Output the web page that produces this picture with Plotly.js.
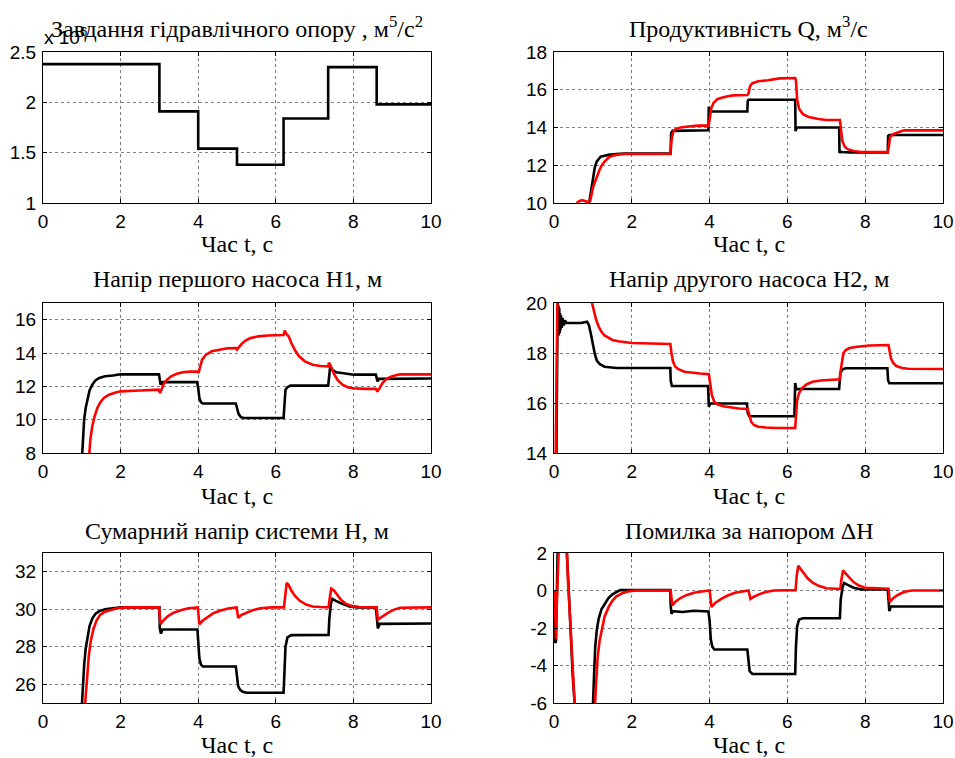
<!DOCTYPE html>
<html>
<head>
<meta charset="utf-8">
<script src="https://cdn.plot.ly/plotly-3.0.1.min.js"></script>
<style>html,body{margin:0;padding:0;background:#fff}#chart{width:955px;height:758px}</style>
</head>
<body>
<div id="chart"></div>
<script>
// ---- Data (time in s) ----
// 1) Hydraulic resistance setpoint (x 10^6), step changes
const resTime  = [0, 3, 4, 5, 6.2, 7.35, 8.6, 10];
const resValue = [2.38, 1.91, 1.54, 1.38, 1.84, 2.35, 1.98, 1.98];

// 2) Productivity Q  [t, value]
const qBlack = [[0.55,9.9],[0.9,9.95],[0.95,10.6],[1.0,11.4],[1.05,11.9],[1.1,12.2],[1.15,12.35],[1.2,12.45],[1.3,12.5],[1.4,12.55],
  [1.6,12.6],[1.8,12.62],[3.0,12.62],[3.01,13.7],[3.05,13.82],[3.97,13.85],[3.98,15.1],[4.0,14.9],[4.05,14.85],[4.97,14.85],
  [4.98,15.4],[5.0,15.47],[6.2,15.47],[6.21,13.8],[6.23,13.95],[6.27,14.0],[7.33,14.0],[7.34,12.65],[7.37,12.72],[7.4,12.7],
  [7.6,12.68],[8.58,12.68],[8.59,13.55],[8.62,13.6],[10,13.6]];
const qRed = [[0.58,10.0],[0.65,10.1],[0.72,10.15],[0.8,10.1],[0.88,10.05],[0.93,10.1],[1.0,10.8],[1.05,11.1],[1.1,11.4],[1.17,11.75],
  [1.23,12.0],[1.3,12.2],[1.4,12.4],[1.5,12.5],[1.6,12.55],[1.8,12.6],[2.0,12.6],[2.99,12.6],[3.02,13.3],[3.06,13.75],
  [3.12,13.9],[3.25,14.0],[3.45,14.05],[3.7,14.1],[3.97,14.1],[4.0,14.4],[4.04,15.0],[4.1,15.3],[4.2,15.5],[4.35,15.6],
  [4.6,15.7],[4.97,15.72],[5.0,15.8],[5.04,16.2],[5.1,16.35],[5.25,16.45],[5.5,16.5],[5.8,16.6],[6.2,16.62],[6.22,16.5],
  [6.25,15.5],[6.3,15.0],[6.4,14.7],[6.55,14.55],[6.8,14.45],[7.0,14.4],[7.35,14.4],[7.37,14.0],[7.41,13.3],[7.47,13.0],
  [7.55,12.85],[7.7,12.75],[7.9,12.7],[8.58,12.7],[8.6,12.9],[8.64,13.5],[8.72,13.65],[8.85,13.75],[9.0,13.85],[10,13.85]];

// 3) Head of first pump H1
const h1Black = [[1.0,7.5],[1.03,9.0],[1.06,10.0],[1.1,10.7],[1.15,11.3],[1.2,11.75],[1.27,12.1],[1.35,12.35],[1.45,12.5],[1.6,12.6],
  [1.8,12.65],[2.0,12.72],[2.99,12.72],[3.0,12.5],[3.03,12.1],[3.08,12.25],[3.97,12.25],[4.0,11.9],[4.03,11.3],[4.07,11.05],
  [4.12,10.97],[4.97,10.97],[5.0,10.7],[5.04,10.35],[5.1,10.15],[5.18,10.1],[6.2,10.1],[6.22,11.0],[6.25,11.8],[6.3,11.95],
  [6.38,12.04],[7.35,12.04],[7.37,12.7],[7.4,13.15],[7.45,13.0],[7.55,12.85],[7.75,12.78],[8.0,12.7],[8.58,12.7],[8.6,12.5],
  [8.62,12.3],[8.66,12.45],[10,12.47]];
const h1Red = [[1.18,7.5],[1.22,8.8],[1.27,9.6],[1.33,10.2],[1.4,10.7],[1.48,11.05],[1.57,11.3],[1.7,11.5],[1.85,11.62],[2.0,11.7],
  [2.5,11.75],[2.98,11.8],[3.02,11.6],[3.06,11.9],[3.12,12.2],[3.2,12.4],[3.3,12.6],[3.45,12.75],[3.6,12.85],[3.8,12.88],
  [3.98,12.88],[4.01,12.8],[4.05,13.2],[4.1,13.6],[4.2,13.9],[4.35,14.1],[4.55,14.2],[4.75,14.28],[4.97,14.3],[5.0,14.2],
  [5.05,14.35],[5.12,14.55],[5.22,14.75],[5.35,14.9],[5.55,15.0],[5.8,15.05],[6.2,15.08],[6.23,15.35],[6.27,15.15],[6.33,15.0],
  [6.4,14.6],[6.5,14.15],[6.6,13.8],[6.75,13.5],[6.95,13.3],[7.15,13.22],[7.35,13.2],[7.37,13.42],[7.42,13.2],[7.5,12.75],
  [7.6,12.35],[7.72,12.1],[7.85,11.95],[8.0,11.88],[8.3,11.85],[8.58,11.85],[8.62,11.68],[8.67,11.9],[8.75,12.2],[8.85,12.45],
  [9.0,12.6],[9.2,12.72],[10,12.72]];

// 4) Head of second pump H2
const h2Black = [[0.06,13.5],[0.08,17.5],[0.095,20.3],[0.105,19.0],[0.115,19.9],[0.125,18.7],[0.135,19.8],[0.145,18.8],[0.155,19.6],[0.165,18.9],
  [0.18,19.5],[0.2,19.0],[0.22,19.4],[0.25,19.1],[0.28,19.3],[0.32,19.2],[0.5,19.2],[0.7,19.2],[0.85,19.25],[0.9,19.1],
  [0.95,18.75],[1.0,18.3],[1.05,17.95],[1.1,17.7],[1.18,17.55],[1.3,17.45],[1.45,17.42],[1.6,17.4],[2.99,17.4],[3.0,16.9],
  [3.03,16.68],[3.96,16.68],[3.98,15.85],[4.02,15.98],[4.96,15.98],[4.98,15.6],[5.02,15.47],[6.18,15.47],[6.2,16.8],[6.23,16.55],
  [6.3,16.56],[7.33,16.56],[7.36,17.2],[7.42,17.35],[7.5,17.39],[8.57,17.39],[8.59,16.9],[8.62,16.79],[10,16.79]];
const h2Red = [[0.04,13.5],[0.08,20.5],[0.11,23],[0.5,23],[0.9,21],[0.97,20.05],[1.02,19.7],[1.08,19.35],[1.15,19.05],[1.22,18.85],
  [1.3,18.7],[1.4,18.6],[1.5,18.52],[1.65,18.47],[1.8,18.43],[2.0,18.4],[2.5,18.38],[2.99,18.36],[3.02,18.0],[3.06,17.65],
  [3.12,17.45],[3.2,17.35],[3.35,17.25],[3.55,17.2],[3.75,17.18],[3.98,17.15],[4.02,16.7],[4.06,16.3],[4.12,16.05],[4.2,15.95],
  [4.35,15.87],[4.55,15.82],[4.75,15.78],[4.98,15.76],[5.02,15.5],[5.07,15.25],[5.14,15.12],[5.25,15.05],[5.45,15.02],[5.7,15.0],
  [6.2,15.0],[6.22,15.5],[6.25,16.1],[6.3,16.4],[6.38,16.6],[6.5,16.75],[6.65,16.85],[6.85,16.9],[7.1,16.92],[7.35,16.95],
  [7.37,17.3],[7.4,17.7],[7.44,18.0],[7.5,18.12],[7.6,18.2],[7.8,18.25],[8.1,18.3],[8.6,18.32],[8.62,18.1],[8.66,17.8],
  [8.72,17.6],[8.8,17.48],[8.95,17.4],[9.1,17.37],[10,17.36]];

// 5) Total head of the system H
const hBlack = [[1.0,24.8],[1.03,26.0],[1.06,27.0],[1.1,27.9],[1.15,28.6],[1.2,29.1],[1.27,29.5],[1.35,29.75],[1.45,29.9],[1.6,30.0],
  [1.8,30.05],[2.0,30.1],[3.0,30.1],[3.01,29.0],[3.04,28.7],[3.08,28.92],[3.98,28.92],[4.0,28.3],[4.03,27.4],[4.07,27.05],
  [4.12,26.95],[4.97,26.95],[5.0,26.5],[5.03,25.9],[5.08,25.7],[5.15,25.6],[5.25,25.55],[6.2,25.55],[6.22,26.5],[6.25,28.0],
  [6.3,28.5],[6.4,28.62],[7.36,28.63],[7.38,29.5],[7.42,30.3],[7.46,30.55],[7.55,30.45],[7.7,30.3],[7.9,30.15],[8.1,30.1],
  [8.58,30.1],[8.6,29.5],[8.63,28.98],[8.68,29.22],[10,29.24]];
const hRed = [[1.08,24.8],[1.11,25.8],[1.14,26.7],[1.18,27.5],[1.23,28.3],[1.3,28.95],[1.38,29.4],[1.47,29.7],[1.58,29.85],[1.72,29.95],
  [1.9,30.05],[2.1,30.1],[2.99,30.1],[3.03,29.2],[3.1,29.4],[3.2,29.6],[3.35,29.8],[3.55,29.95],[3.75,30.05],[3.99,30.1],
  [4.03,29.2],[4.12,29.4],[4.25,29.6],[4.4,29.8],[4.6,29.95],[4.8,30.05],[4.99,30.1],[5.03,29.55],[5.12,29.7],[5.25,29.8],
  [5.4,29.95],[5.6,30.05],[5.9,30.1],[6.21,30.1],[6.24,30.8],[6.28,31.4],[6.33,31.3],[6.4,31.0],[6.5,30.7],[6.62,30.45],
  [6.78,30.25],[6.95,30.15],[7.15,30.12],[7.36,30.1],[7.39,30.6],[7.43,31.1],[7.5,31.0],[7.58,30.75],[7.68,30.5],[7.8,30.3],
  [7.95,30.18],[8.15,30.12],[8.6,30.1],[8.63,29.45],[8.7,29.55],[8.8,29.7],[8.92,29.85],[9.05,29.98],[9.2,30.08],[10,30.1]];

// 6) Head error ΔH
const dBlack = [[0,0],[0.01,-1.5],[0.03,-2.8],[0.05,-2.7],[0.07,0],[0.09,3],[0.12,5],[0.2,6],[0.3,3],[0.33,2],
  [0.38,0],[0.43,-2.5],[0.48,-4.5],[0.53,-6],[0.6,-8],[0.9,-8],[1.0,-6.2],[1.03,-4.5],[1.06,-3.0],[1.1,-2.1],
  [1.15,-1.5],[1.22,-1.0],[1.3,-0.7],[1.4,-0.4],[1.5,-0.2],[1.6,-0.08],[1.7,0.02],[2.0,0.02],[2.99,0.02],[3.0,-0.8],
  [3.02,-1.25],[3.05,-1.1],[3.3,-1.15],[3.6,-1.08],[3.97,-1.12],[4.0,-1.6],[4.03,-2.6],[4.07,-3.0],[4.12,-3.15],[4.97,-3.15],
  [5.0,-3.8],[5.03,-4.3],[5.1,-4.45],[6.2,-4.45],[6.22,-3.0],[6.25,-1.9],[6.3,-1.55],[6.4,-1.48],[7.35,-1.48],[7.37,-0.5],
  [7.42,0.2],[7.46,0.4],[7.55,0.3],[7.7,0.15],[7.9,0.05],[8.58,0.05],[8.6,-0.5],[8.62,-1.1],[8.66,-0.85],[10,-0.85]];
const dRed = [[0,0],[0.01,-1],[0.02,0],[0.03,-2],[0.04,-0.5],[0.05,-2.6],[0.06,-1.5],[0.075,3],[0.1,6],[0.2,7],
  [0.3,4],[0.33,2],[0.36,0.5],[0.4,-1.0],[0.44,-2.8],[0.48,-4.3],[0.52,-5.6],[0.55,-6.5],[0.7,-9],[1.0,-8],
  [1.05,-6.0],[1.08,-4.8],[1.12,-3.6],[1.17,-2.7],[1.23,-2.0],[1.3,-1.4],[1.4,-0.9],[1.5,-0.55],[1.6,-0.32],[1.75,-0.15],
  [1.9,-0.05],[2.1,0],[3.0,0],[3.04,-0.8],[3.12,-0.6],[3.25,-0.4],[3.4,-0.25],[3.6,-0.12],[3.8,-0.05],[4.0,0],
  [4.05,-0.88],[4.15,-0.65],[4.3,-0.45],[4.45,-0.28],[4.65,-0.12],[4.85,-0.04],[5.0,0],[5.05,-0.45],[5.15,-0.32],[5.3,-0.18],
  [5.45,-0.08],[5.65,0],[6.21,0.02],[6.24,0.8],[6.28,1.32],[6.34,1.15],[6.42,0.9],[6.52,0.65],[6.65,0.42],[6.8,0.25],
  [7.0,0.12],[7.36,0.08],[7.39,0.6],[7.43,1.07],[7.5,0.9],[7.58,0.7],[7.7,0.45],[7.85,0.25],[8.0,0.15],[8.6,0.1],
  [8.63,-0.62],[8.7,-0.45],[8.8,-0.28],[8.92,-0.15],[9.05,-0.05],[9.2,0],[10,0]];

// Titles and labels
const titles = ['Завдання гідравлічного опору , м<sup>5</sup>/с<sup>2</sup>', 'Продуктивність Q, м<sup>3</sup>/с',
  'Напір першого насоса H1, м', 'Напір другого насоса H2, м', 'Сумарний напір системи H, м', 'Помилка за напором ΔH'];
const xLabel = 'Час t, с';
const xTicks = [0, 2, 4, 6, 8, 10];
const yRanges = [[1, 2.5], [10, 18], [8, 17], [14, 20], [25, 33], [-6, 2]];
const yTickVals = [[1, 1.5, 2, 2.5], [10, 12, 14, 16, 18], [8, 10, 12, 14, 16], [14, 16, 18, 20], [26, 28, 30, 32], [-6, -4, -2, 0, 2]];
const yTickText = [['1', '1.5', '2', '2.5'], ['10', '12', '14', '16', '18'], ['8', '10', '12', '14', '16'], ['14', '16', '18', '20'], ['26', '28', '30', '32'], ['-6', '-4', '-2', '0', '2']];

// ---- Build ----
const W = 955, H = 758;
const colX = [[43, 431], [554, 943]];
const rowY = [[52, 203], [303, 453], [553, 703]];
const titleY = [27, 279, 531];
const xTitleY = [244, 496, 745];

const BLACK = '#000000', RED = '#ff0000';
const ax = (i) => (i === 0 ? '' : String(i + 1));
const traces = [];
function line(pairs, color, i) {
  traces.push({x: pairs.map(p => p[0]), y: pairs.map(p => p[1]), type: 'scatter', mode: 'lines',
    line: {color: color, width: 2.6}, xaxis: 'x' + ax(i), yaxis: 'y' + ax(i), hoverinfo: 'skip', showlegend: false});
}
traces.push({x: resTime, y: resValue, type: 'scatter', mode: 'lines', line: {color: BLACK, width: 2.6, shape: 'hv'},
  xaxis: 'x', yaxis: 'y', showlegend: false});
line(qBlack, BLACK, 1); line(qRed, RED, 1);
line(h1Black, BLACK, 2); line(h1Red, RED, 2);
line(h2Black, BLACK, 3); line(h2Red, RED, 3);
line(hBlack, BLACK, 4); line(hRed, RED, 4);
line(dBlack, BLACK, 5); line(dRed, RED, 5);

const layout = {width: W, height: H, margin: {l: 0, r: 0, t: 0, b: 0}, paper_bgcolor: '#fff', plot_bgcolor: '#fff',
  showlegend: false, annotations: []};
const tickFont = {family: 'Liberation Sans, Arial, sans-serif', size: 19, color: '#000'};
const serif = {family: 'Liberation Serif, Times New Roman, serif', size: 24, color: '#000'};
for (let i = 0; i < 6; i++) {
  const r = Math.floor(i / 2), c = i % 2;
  const common = {showline: true, mirror: 'ticks', linecolor: '#000', linewidth: 1, ticks: 'inside', ticklen: 4,
    tickcolor: '#000', tickwidth: 1, showgrid: true, gridcolor: '#7f7f7f', griddash: 'dot', gridwidth: 1,
    zeroline: false, tickfont: tickFont, fixedrange: true, automargin: false};
  layout['xaxis' + ax(i)] = Object.assign({}, common, {domain: [colX[c][0] / W, colX[c][1] / W], range: [0, 10],
    tickvals: xTicks, anchor: 'y' + ax(i), ticklabelstandoff: 1});
  layout['yaxis' + ax(i)] = Object.assign({}, common, {domain: [1 - rowY[r][1] / H, 1 - rowY[r][0] / H], range: yRanges[i],
    tickvals: yTickVals[i], ticktext: yTickText[i], anchor: 'x' + ax(i), ticklabelstandoff: 2});
  const cx = (colX[c][0] + colX[c][1]) / 2 / W;
  layout.annotations.push({text: titles[i], x: cx, y: 1 - titleY[r] / H, xref: 'paper', yref: 'paper',
    xanchor: 'center', yanchor: 'middle', showarrow: false, font: serif});
  layout.annotations.push({text: xLabel, x: cx, y: 1 - xTitleY[r] / H, xref: 'paper', yref: 'paper',
    xanchor: 'center', yanchor: 'middle', showarrow: false, font: serif});
}
layout.annotations.unshift({text: 'x 10<sup>6</sup>', x: 42 / W, y: 1 - 36 / H, xref: 'paper', yref: 'paper',
  xanchor: 'left', yanchor: 'middle', showarrow: false, font: {family: 'Liberation Sans, Arial, sans-serif', size: 19, color: '#000'}});

Plotly.newPlot('chart', traces, layout, {staticPlot: true, displayModeBar: false});
</script>
</body>
</html>
